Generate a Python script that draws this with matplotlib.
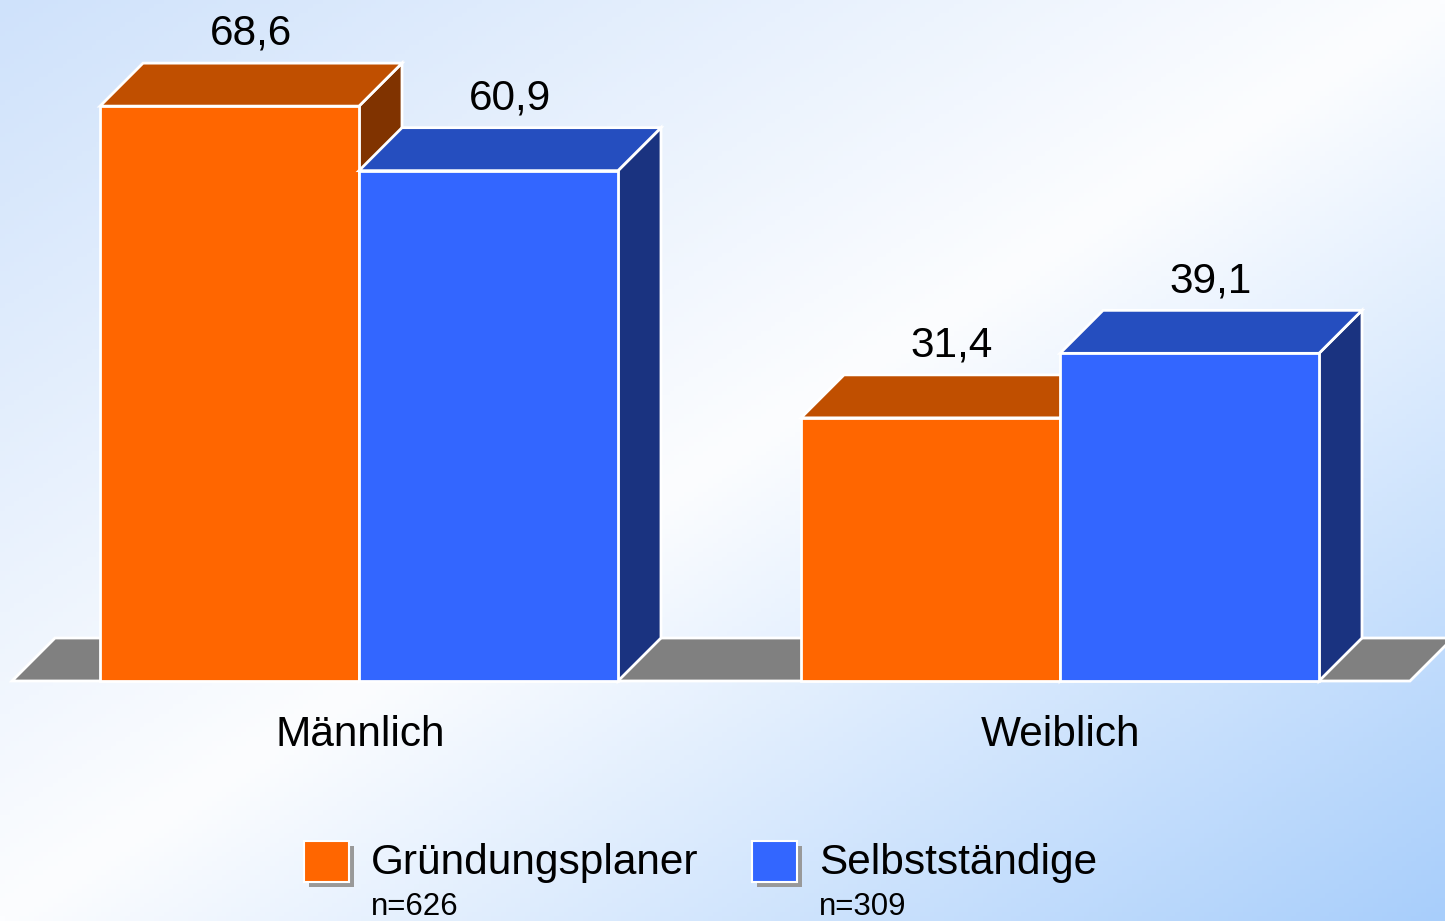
import numpy as np
import matplotlib.pyplot as plt
from matplotlib.patches import Polygon, Rectangle

plt.rcParams['font.family'] = ['Liberation Sans', 'DejaVu Sans']

# data
groups = ['Männlich', 'Weiblich']
series = ['Gründungsplaner', 'Selbstständige']
series_n = ['n=626', 'n=309']
values = {
    'Gründungsplaner': [68.6, 31.4],
    'Selbstständige': [60.9, 39.1],
}

# colours: front, top, side
colors = {
    'Gründungsplaner': ('#FF6600', '#C04F00', '#803300'),
    'Selbstständige': ('#3366FF', '#254EBF', '#1A3380'),
}

W, H = 1445, 921
fig = plt.figure(figsize=(W / 100, H / 100), dpi=100)

# background gradient (light blue -> white -> blue along the diagonal)
bg = fig.add_axes([0, 0, 1, 1], zorder=0)
gx, gy = np.meshgrid(np.linspace(0, 1, 300), np.linspace(0, 1, 200))
t = (gx + gy) / 2
c0 = np.array([207, 226, 251]) / 255
c1 = np.array([252, 253, 255]) / 255
c2 = np.array([168, 206, 251]) / 255
img = np.where(t[..., None] < 0.5,
               c0 + (c1 - c0) * (t[..., None] / 0.5),
               c1 + (c2 - c1) * ((t[..., None] - 0.5) / 0.5))
bg.imshow(img, aspect='auto', extent=[0, 1, 0, 1], origin='upper')
bg.axis('off')

# main axes: x in pixels, y in value units
px_per_unit = 8.38
floor_px = 240
ax = fig.add_axes([0, 0, 1, 1], zorder=1)
ax.patch.set_alpha(0)
ax.set_xlim(0, W)
ax.set_ylim(-floor_px / px_per_unit, (H - floor_px) / px_per_unit)
ax.axis('off')

dx = 43
dy = 43 / px_per_unit
bar_w = 259
group_x0 = [100, 801]

# floor
floor = Polygon([(12, 0), (12 + dx, dy), (1410 + dx, dy), (1410, 0)],
                closed=True, facecolor='#808080', edgecolor='white', lw=2)
ax.add_patch(floor)


def draw_bar(x0, v, front, top, side):
    ax.add_patch(Polygon([(x0 + bar_w, 0), (x0 + bar_w + dx, dy),
                          (x0 + bar_w + dx, v + dy), (x0 + bar_w, v)],
                         facecolor=side, edgecolor='white', lw=2))
    ax.add_patch(Polygon([(x0, v), (x0 + dx, v + dy),
                          (x0 + bar_w + dx, v + dy), (x0 + bar_w, v)],
                         facecolor=top, edgecolor='white', lw=2))
    ax.add_patch(Rectangle((x0, 0), bar_w, v, facecolor=front,
                           edgecolor='white', lw=2))


for gi, g in enumerate(groups):
    for si, s in enumerate(series):
        x0 = group_x0[gi] + si * bar_w
        v = values[s][gi]
        draw_bar(x0, v, *colors[s])
        ax.text(x0 + bar_w / 2 + dx / 2, v + dy + 1.1, f'{v:.1f}'.replace('.', ','),
                ha='center', va='bottom', fontsize=30.5, color='black')
    ax.text(group_x0[gi] + bar_w + 1, -6.4, g, ha='center', va='center',
            fontsize=30.5, color='black')

# legend
leg_x = [304, 752]
for si, s in enumerate(series):
    x = leg_x[si] / W
    y = (H - 882) / H
    fig.patches.append(Rectangle((x + 5 / W, y - 5 / H), 45 / W, 41 / H,
                                 transform=fig.transFigure, facecolor='#999999',
                                 edgecolor='none', zorder=2))
    fig.patches.append(Rectangle((x, y), 45 / W, 41 / H,
                                 transform=fig.transFigure, facecolor=colors[s][0],
                                 edgecolor='white', lw=1.5, zorder=3))
    fig.text((leg_x[si] + 67) / W, (H - 863) / H, s, ha='left', va='center',
             fontsize=30.5, color='black', zorder=4)
    fig.text((leg_x[si] + 67) / W, (H - 907) / H, series_n[si], ha='left',
             va='center', fontsize=22.5, color='black', zorder=4)

fig.savefig('out.png', dpi=100)
